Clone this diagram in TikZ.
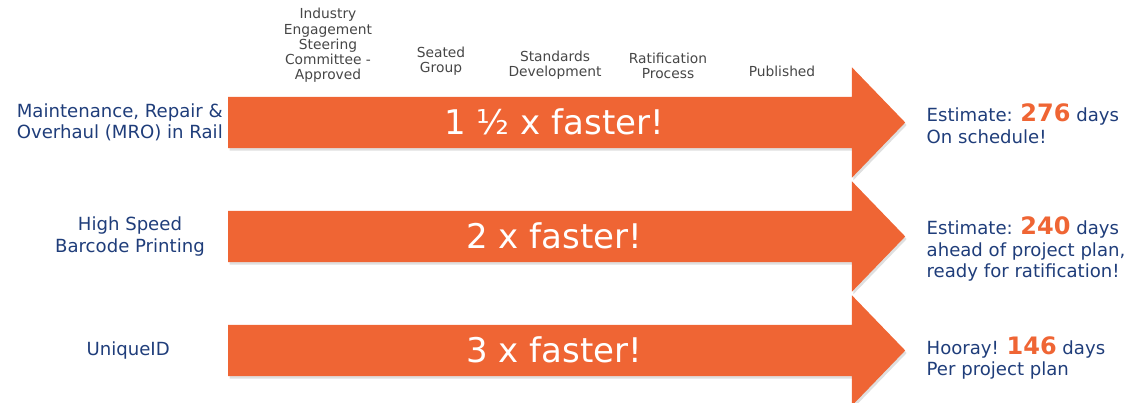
\documentclass[tikz,border=0pt]{standalone}
\usepackage{fontspec}
\setmainfont{DejaVu Sans}
\usetikzlibrary{positioning, shapes.arrows, shadows}

\definecolor{rkorange}{RGB}{239,101,52}
\definecolor{rkblue}{RGB}{31,61,122}
\definecolor{rkgray}{RGB}{70,70,70}

\newcommand{\daycount}[1]{{\color{rkorange}\bfseries\fontsize{24}{24}\selectfont #1}}

\begin{document}
\begin{tikzpicture}[
  x=1pt, y=-1pt,
  bigarrow/.style={single arrow, fill=rkorange, draw=none, single arrow head extend=29.5pt, single arrow tip angle=92, minimum height=677pt, inner xsep=0pt, inner ysep=0pt, text height=37.9pt, text depth=13.1pt, text=white, font=\fontsize{34}{34}\selectfont, anchor=tail, drop shadow={shadow xshift=1.5pt, shadow yshift=-2.5pt, opacity=.25}},
  project/.style={text=rkblue, font=\fontsize{18.1}{21.5}\selectfont, align=center, inner sep=0pt},
  outcome/.style={text=rkblue, font=\fontsize{18.1}{21.5}\selectfont, align=left, inner sep=0pt, anchor=north west},
  stage/.style={text=rkgray, font=\fontsize{13.8}{15.3}\selectfont, align=center, inner sep=0pt, anchor=south}
]
\useasboundingbox (0,0) rectangle (1135,403);

% Process stages
\node[stage] (steering) at (328,83) {Industry\\Engagement\\Steering\\Committee -\\Approved};
\node[stage] (seated) at (441,76) {Seated\\Group};
\node[stage] (develop) at (555,80) {Standards\\Development};
\node[stage] (ratify) at (668,79) {Ratification\\Process};
\node[stage] (publish) at (782,77) {Published};

% Speed arrows
\node[bigarrow] (mro) at (228,122.5) {1 ½ x faster!};
\node[bigarrow] (barcode) at (228,236.5) {2 x faster!};
\node[bigarrow] (unique) at (228,350.5) {3 x faster!};

% Projects
\node[project, align=right, left=5pt of mro] (mrolabel) {Maintenance, Repair \&\\Overhaul (MRO) in Rail};
\node[project, left=23pt of barcode] (barcodelabel) {High Speed\\Barcode Printing};
\node[project, left=58pt of unique] (uniquelabel) {UniqueID};

% Outcomes
\node[outcome, right=21pt of mro.tip, anchor=north west, yshift=19pt] (mroresult) {Estimate: \daycount{276} days\\On schedule!};
\node[outcome, right=21pt of barcode.tip, anchor=north west, yshift=20pt] (barcoderesult) {Estimate: \daycount{240} days\\ahead of project plan,\\ready for ratification!};
\node[outcome, right=21pt of unique.tip, anchor=north west, yshift=14pt] (uniqueresult) {Hooray! \daycount{146} days\\Per project plan};
\end{tikzpicture}
\end{document}
